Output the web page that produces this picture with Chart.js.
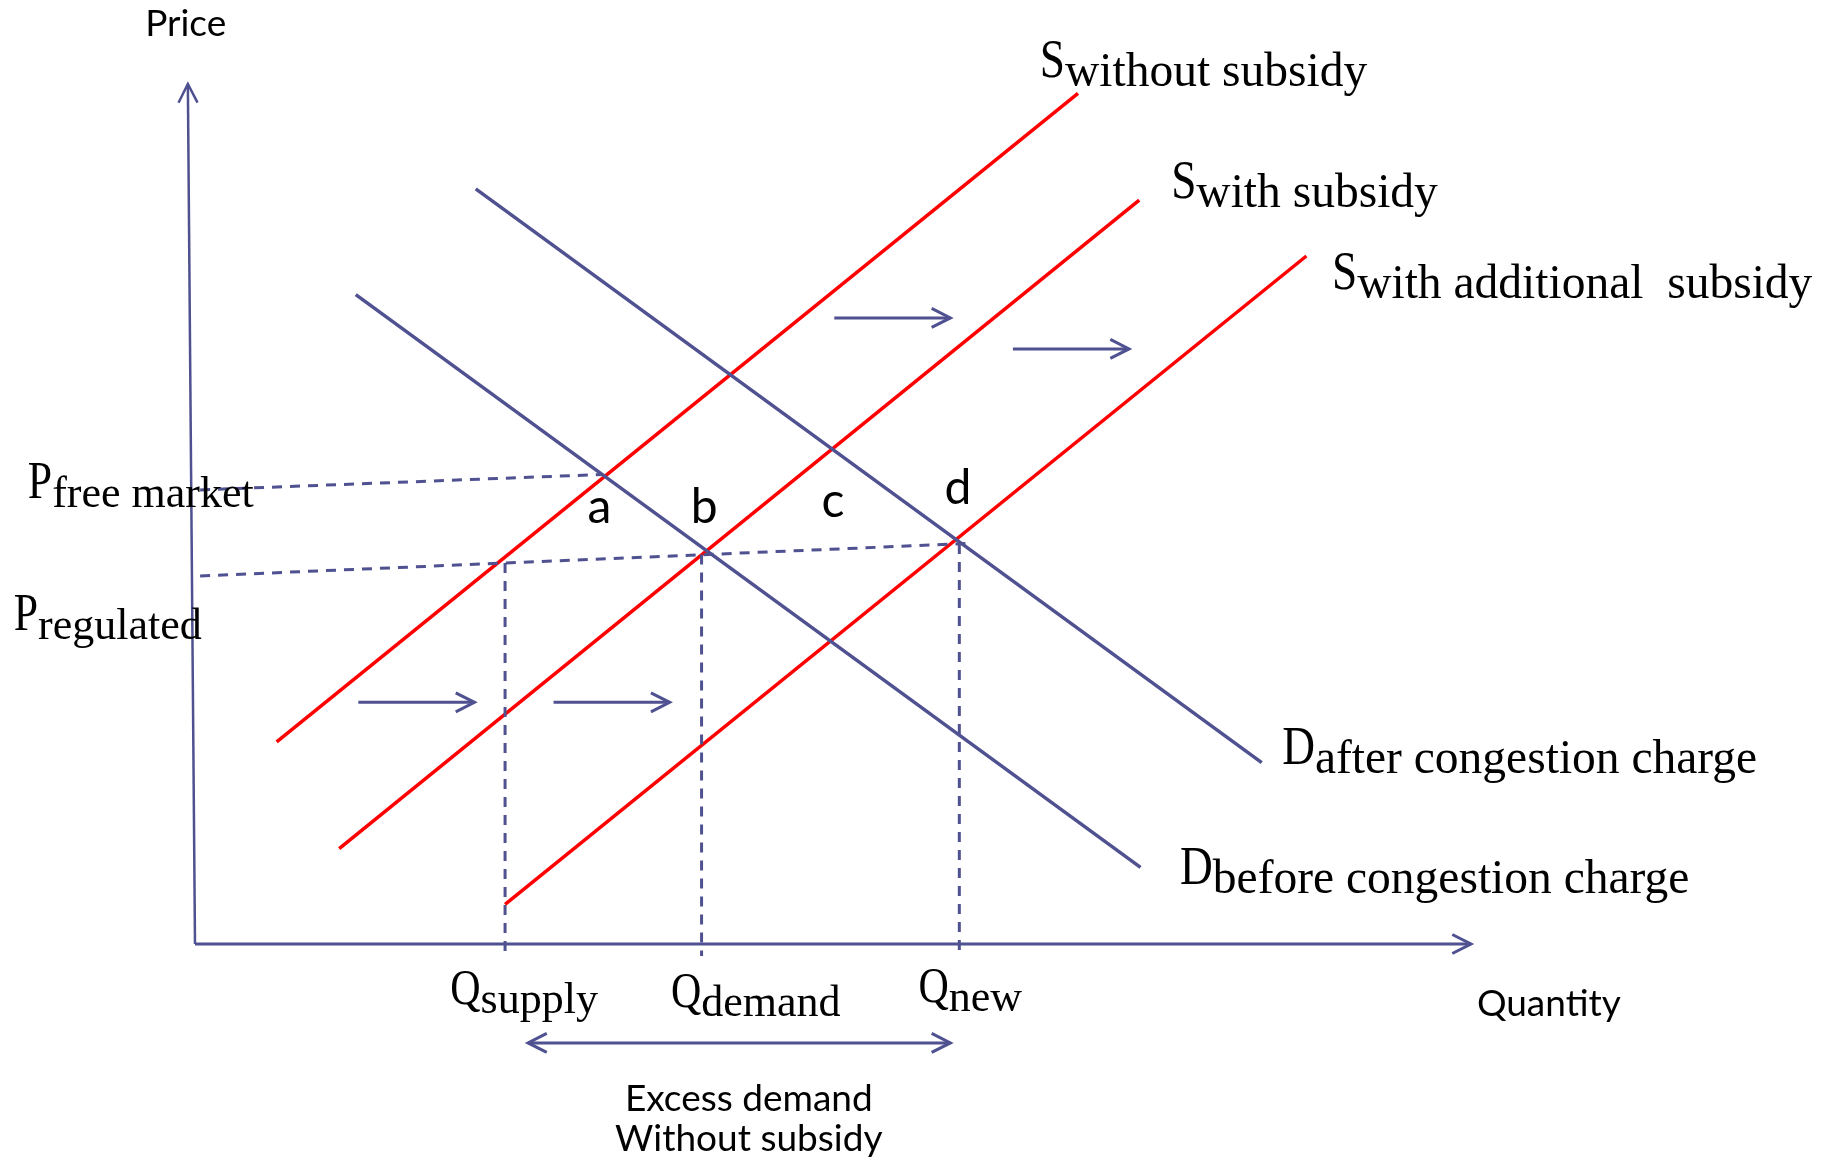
<!DOCTYPE html>
<html>
<head>
<meta charset="utf-8">
<script src="https://cdn.jsdelivr.net/npm/chart.js@4.4.1/dist/chart.umd.min.js"></script>
<style>
  html, body { margin: 0; padding: 0; background: #ffffff; }
  canvas { display: block; }
</style>
</head>
<body>
<canvas id="c" width="1822" height="1160"></canvas>
<script>
// ---- Data (Quantity on x, Price on y, arbitrary units 0..100) ----
const supplyWithoutSubsidy    = [{x: 6.4,  y: 23.5}, {x: 69.2, y: 98.9}];
const supplyWithSubsidy       = [{x: 11.3, y: 11.1}, {x: 74.0, y: 86.5}];
const supplyWithAdditional    = [{x: 24.3, y: 4.6},  {x: 87.1, y: 80.0}];
const demandBefore            = [{x: 12.6, y: 75.5}, {x: 74.1, y: 8.9}];
const demandAfter             = [{x: 22.0, y: 87.8}, {x: 83.6, y: 21.1}];

const priceFreeMarketLine     = [{x: 0.4, y: 52.8}, {x: 32.0, y: 54.6}];
const priceRegulatedLine      = [{x: 0.4, y: 42.8}, {x: 61.0, y: 46.6}];
const qSupplyLine             = [{x: 24.3, y: 44.3}, {x: 24.3, y: -1.4}];
const qDemandLine             = [{x: 39.7, y: 45.3}, {x: 39.7, y: -1.4}];
const qNewLine                = [{x: 59.9, y: 46.5}, {x: 59.9, y: -1.4}];

const demandShiftArrows = [
  [{x: 50.1, y: 72.8}, {x: 59.2, y: 72.8}],
  [{x: 64.1, y: 69.2}, {x: 73.2, y: 69.2}]
];
const supplyShiftArrows = [
  [{x: 12.8, y: 28.1}, {x: 21.9, y: 28.1}],
  [{x: 28.1, y: 28.1}, {x: 37.2, y: 28.1}]
];
const excessDemandArrow = [{x: 26.1, y: -11.5}, {x: 59.2, y: -11.5}];

const yAxisLine = [{x: 0, y: 0}, {x: -0.56, y: 100}];
const xAxisLine = [{x: 0, y: 0}, {x: 100, y: 0}];

// ---- Styles ----
const BLUE = '#4f5190';
const RED = '#ff0000';
const SERIF = '"Liberation Serif", "DejaVu Serif", serif';
const SANS = 'Lato, "Open Sans", sans-serif';

function solid(data, color, width, extra) {
  return Object.assign({data, borderColor: color, borderWidth: width, showLine: true,
    pointRadius: 0, fill: false, clip: false, tension: 0}, extra || {});
}
function dashed(data) {
  return solid(data, BLUE, 3, {borderDash: [10, 8]});
}

const datasets = [
  solid(yAxisLine, BLUE, 2.5, {arrowEnd: true}),
  solid(xAxisLine, BLUE, 3, {arrowEnd: true}),
  dashed(priceFreeMarketLine),
  dashed(priceRegulatedLine),
  dashed(qSupplyLine),
  dashed(qDemandLine),
  dashed(qNewLine),
  solid(demandBefore, BLUE, 3.5),
  solid(demandAfter, BLUE, 3.5),
  solid(supplyWithoutSubsidy, RED, 3.5),
  solid(supplyWithSubsidy, RED, 3.5),
  solid(supplyWithAdditional, RED, 3.5),
  ...demandShiftArrows.map(a => solid(a, BLUE, 3, {arrowEnd: true})),
  ...supplyShiftArrows.map(a => solid(a, BLUE, 3, {arrowEnd: true})),
  solid(excessDemandArrow, BLUE, 3, {arrowEnd: true, arrowStart: true})
];

// ---- Labels (positions in data units) ----
const serifLabels = [
  {main: 'P', sub: 'free market', x: -13.1, y: 51.9, m: 52, s: 44},
  {main: 'P', sub: 'regulated', x: -14.2, y: 36.5, m: 52, s: 44},
  {main: 'S', sub: 'without subsidy', x: 66.2, y: 100.8, m: 54, s: 47.5},
  {main: 'S', sub: 'with subsidy', x: 76.5, y: 86.8, m: 54, s: 47.5},
  {main: 'S', sub: 'with additional  subsidy', x: 89.1, y: 76.2, m: 54, s: 47.5},
  {main: 'D', sub: 'after congestion charge', x: 85.2, y: 20.9, m: 54, s: 47.5},
  {main: 'D', sub: 'before congestion charge', x: 77.2, y: 7.0, m: 54, s: 47.5},
  {main: 'Q', sub: 'supply', x: 20.0, y: -7.0, m: 50, s: 44},
  {main: 'Q', sub: 'demand', x: 37.3, y: -7.3, m: 50, s: 44},
  {main: 'Q', sub: 'new', x: 56.7, y: -6.8, m: 50, s: 44}
];
const sansLabels = [
  {text: 'Price', x: -0.73, y: 107.0, size: 37},
  {text: 'Quantity', x: 106.1, y: -7.0, size: 37},
  {text: 'Excess demand', x: 43.4, y: -18.0, size: 37},
  {text: 'Without subsidy', x: 43.4, y: -22.7, size: 37},
  {text: 'a', x: 31.7, y: 50.7, size: 48},
  {text: 'b', x: 39.9, y: 50.7, size: 48},
  {text: 'c', x: 50.0, y: 51.5, size: 48},
  {text: 'd', x: 59.8, y: 53.0, size: 48}
];

function drawHead(ctx, x0, y0, x1, y1, color, width) {
  const ang = Math.atan2(y1 - y0, x1 - x0);
  const len = 21, spread = 0.47;
  ctx.save();
  ctx.strokeStyle = color;
  ctx.lineWidth = width;
  ctx.setLineDash([]);
  ctx.lineCap = 'butt';
  ctx.lineJoin = 'miter';
  ctx.beginPath();
  ctx.moveTo(x1 - len * Math.cos(ang - spread), y1 - len * Math.sin(ang - spread));
  ctx.lineTo(x1, y1);
  ctx.lineTo(x1 - len * Math.cos(ang + spread), y1 - len * Math.sin(ang + spread));
  ctx.stroke();
  ctx.restore();
}

const overlay = {
  id: 'overlay',
  afterDatasetsDraw(chart) {
    const ctx = chart.ctx;
    const xs = chart.scales.x, ys = chart.scales.y;
    const px = v => xs.getPixelForValue(v), py = v => ys.getPixelForValue(v);
    chart.data.datasets.forEach(ds => {
      const d = ds.data;
      const a = d[0], b = d[d.length - 1];
      if (ds.arrowEnd) drawHead(ctx, px(a.x), py(a.y), px(b.x), py(b.y), ds.borderColor, ds.borderWidth);
      if (ds.arrowStart) drawHead(ctx, px(b.x), py(b.y), px(a.x), py(a.y), ds.borderColor, ds.borderWidth);
    });
    ctx.save();
    ctx.fillStyle = '#000';
    const squeeze = 0.84;
    serifLabels.forEach(l => {
      const x = px(l.x), y = py(l.y);
      ctx.textAlign = 'left';
      ctx.textBaseline = 'alphabetic';
      ctx.font = l.m + 'px ' + SERIF;
      const w = ctx.measureText(l.main).width * squeeze;
      ctx.save();
      ctx.translate(x, y);
      ctx.scale(squeeze, 1);
      ctx.fillText(l.main, 0, 0);
      ctx.restore();
      ctx.font = l.s + 'px ' + SERIF;
      ctx.fillText(l.sub, x + w, y + 9);
    });
    sansLabels.forEach(l => {
      ctx.textAlign = 'center';
      ctx.textBaseline = 'middle';
      ctx.font = l.size + 'px ' + SANS;
      ctx.fillText(l.text, px(l.x), py(l.y));
    });
    ctx.restore();
  }
};

new Chart(document.getElementById('c'), {
  type: 'scatter',
  data: {datasets},
  options: {
    responsive: false,
    animation: false,
    devicePixelRatio: 1,
    layout: {padding: {left: 195, right: 351, top: 84, bottom: 216}},
    plugins: {legend: {display: false}, tooltip: {enabled: false}},
    scales: {
      x: {type: 'linear', min: 0, max: 100, display: false},
      y: {type: 'linear', min: 0, max: 100, display: false}
    }
  },
  plugins: [overlay]
});
</script>
</body>
</html>
